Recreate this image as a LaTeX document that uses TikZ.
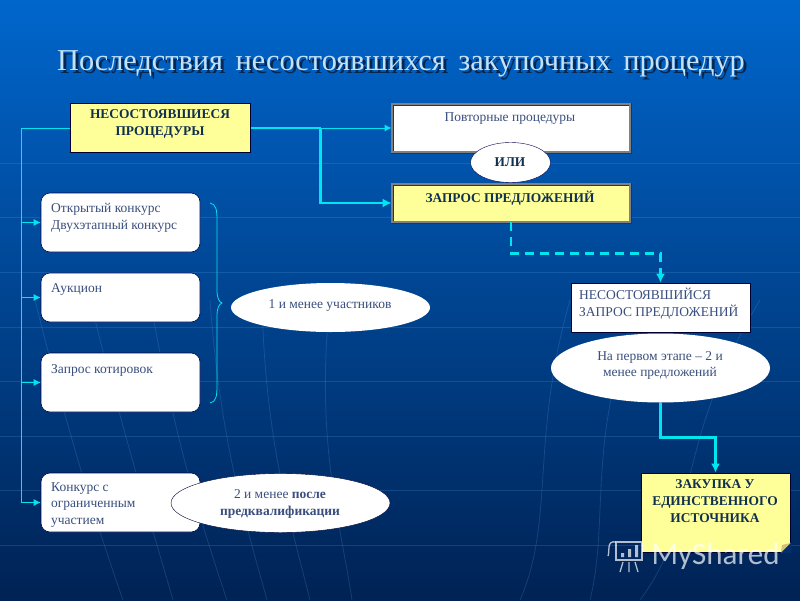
\documentclass[tikz,border=0pt]{standalone}
\usepackage{fontspec}
\setmainfont{Liberation Serif}
\newfontfamily\wmfont{Carlito}
\usetikzlibrary{shapes.geometric, arrows.meta}

\definecolor{lineCyan}{HTML}{00E6F0}
\definecolor{paleYellow}{HTML}{FFFF99}
\definecolor{softText}{HTML}{3A4F7E}
\definecolor{darkText}{HTML}{10304F}
\definecolor{gridBlue}{HTML}{5AA0E6}
\definecolor{titleBlue}{HTML}{C4E2F6}
\definecolor{titleShade}{HTML}{07264F}
\definecolor{cornerBlue}{HTML}{03306C}
\definecolor{foldTan}{HTML}{D2C27E}

\tikzset{
    yellowbox/.style={draw=black!80!blue, fill=paleYellow, line width=0.8pt, inner sep=0pt},
    whitebox/.style={draw=black!80!blue, fill=white, line width=0.6pt, inner sep=0pt},
    framebox/.style={draw=black!80, double=gray, fill=white, line width=0.8pt, double distance=1.4pt, inner sep=0pt},
    roundbox/.style={draw=black!70!blue, fill=white, rounded corners=9pt, line width=0.6pt, inner sep=0pt},
    oval/.style={ellipse, fill=white, inner sep=0pt},
    plain/.style={font=\fontsize{13.5}{16.5}\selectfont, text=softText, inner sep=0pt, align=center},
    strong/.style={font=\fontsize{13.4}{17}\selectfont\bfseries, text=darkText, inner sep=0pt, align=center},
    thinline/.style={draw=lineCyan, line width=1pt},
    thickline/.style={draw=lineCyan, line width=2.8pt},
    gridline/.style={draw=gridBlue, line width=0.8pt, opacity=0.22},
    tip/.style={-{Latex[length=7pt, width=7pt]}},
    bigtip/.style={-{Latex[length=9pt, width=9pt]}}
}

\begin{document}
\begin{tikzpicture}[x=1pt, y=-1pt]
    \useasboundingbox (0,0) rectangle (800,600);
    \shade[top color={rgb,255:red,0;green,102;blue,204}, middle color={rgb,255:red,0;green,88;blue,172}, bottom color={rgb,255:red,0;green,34;blue,84}] (0,0) rectangle (800,600);

    % background lines
    \foreach \y in {163,217.5,272,327,381.5,436,490,545}
        \draw[gridline] (0,\y) -- (800,\y);
    \foreach \a/\b/\c in {35/95/123,90/150/173,150/200/227,210/245/267,262/290/310,330/340/352,570/555/520,640/610/590,760/700/640}
        \draw[gridline] (\a,300) .. controls (\b-25,440) and (\b,520) .. (\c,600);

    % title
    \node[font=\fontsize{30.3}{34}\selectfont, text=titleShade, inner sep=0pt] (titleShadow) at (404,67)
        {Последствия\hspace{5pt} несостоявшихся\hspace{5pt} закупочных\hspace{5pt} процедур};
    \node[font=\fontsize{30.3}{34}\selectfont, text=titleBlue, inner sep=0pt] (title) at (401,64)
        {Последствия\hspace{5pt} несостоявшихся\hspace{5pt} закупочных\hspace{5pt} процедур};

    % top row
    \node[yellowbox, minimum width=180pt, minimum height=49pt] (failed) at (160.5,128) {};
    \node[strong] (failedText) at (160,124) {НЕСОСТОЯВШИЕСЯ\\ПРОЦЕДУРЫ};
    \node[framebox, minimum width=238pt, minimum height=48pt] (repeat) at (511,128) {};
    \node[plain] (repeatText) at (510,119) {Повторные процедуры};
    \node[framebox, fill=paleYellow, minimum width=238pt, minimum height=38pt] (request) at (511,203) {};
    \node[strong] (requestText) at (510,198) {ЗАПРОС ПРЕДЛОЖЕНИЙ};
    \node[oval, draw=black!70!blue, minimum width=80pt, minimum height=40pt] (orOval) at (510.5,162.5) {};
    \node[strong] (orText) at (510,162) {ИЛИ};

    % left column
    \node[roundbox, minimum width=159pt, minimum height=59pt] (open) at (120.5,222.5) {};
    \node[plain, anchor=north west, align=left] (openText) at (51,203.5) {Открытый конкурс\\Двухэтапный конкурс};
    \node[roundbox, minimum width=159pt, minimum height=49pt] (auction) at (120.5,297.5) {};
    \node[plain, anchor=west] (auctionText) at (51,289) {Аукцион};
    \node[roundbox, minimum width=159pt, minimum height=59pt] (quotes) at (120.5,382.5) {};
    \node[plain, anchor=west] (quotesText) at (51,370) {Запрос котировок};
    \node[roundbox, minimum width=159pt, minimum height=59pt] (limited) at (120.5,502.5) {};
    \node[plain, anchor=north west, align=left] (limitedText) at (51,482) {Конкурс с\\ограниченным\\участием};

    % ovals
    \node[oval, minimum width=199pt, minimum height=49pt] (oneOval) at (330.5,307.5) {};
    \node[plain] (oneText) at (330,305) {1 и менее участников};
    \node[oval, draw=black!80!blue, minimum width=219pt, minimum height=59pt] (twoOval) at (280.5,503) {};
    \node[plain] (twoText) at (280,504) {2 и менее \textbf{после}\\\textbf{предквалификации}};

    % right column
    \node[whitebox, minimum width=179pt, minimum height=49pt] (single) at (660.5,307.5) {};
    \node[plain, anchor=north west, align=left] (singleText) at (579,288) {НЕСОСТОЯВШИЙСЯ\\ЗАПРОС ПРЕДЛОЖЕНИЙ};
    \node[oval, minimum width=219pt, minimum height=69pt] (first) at (660.5,368) {};
    \node[plain] (firstText) at (660,365.5) {На первом этапе -- 2 и\\менее предложений};
    \node[yellowbox, minimum width=149pt, minimum height=79pt] (sole) at (715.5,512.5) {};
    \fill[cornerBlue] (791,542) -- (791,553) -- (780,553) -- cycle;
    \fill[foldTan] (790.5,543) -- (781,552.5) -- (782,545) -- cycle;
    \node[strong] (soleText) at (715,501) {ЗАКУПКА У\\ЕДИНСТВЕННОГО\\ИСТОЧНИКА};

    % connectors
    \coordinate (trunk) at (21,128);
    \coordinate (split) at (320.5,128);
    \draw[thinline] (failed.west) -- (trunk);
    \draw[thinline, tip] (trunk) |- (limited.west);
    \draw[thinline, tip] (trunk |- open.west) -- (open.west);
    \draw[thinline, tip] (trunk |- auction.west) -- (auction.west);
    \draw[thinline, tip] (trunk |- quotes.west) -- (quotes.west);
    \draw[thinline, tip] (split) -- (repeat.west);
    \draw[thickline] (failed.east) -- (split);
    \draw[thickline, bigtip] (split) |- (request.west);
    \draw[thickline, dash pattern=on 9pt off 6pt, bigtip] (request.south) -- ++(0,31) -| (single.north);
    \draw[thickline, bigtip] (first.south) -- ++(0,35) -| (sole.north);

    % brace
    \coordinate (braceTop) at (210,203);
    \coordinate (braceTip) at (222,303);
    \coordinate (braceEnd) at (210,403);
    \draw[thinline, line width=0.8pt] (braceTop) .. controls (216,204) and (217,210) .. (217,220)
        -- (217,290) .. controls (217,298) and (219,302) .. (braceTip)
        .. controls (219,304) and (217,308) .. (217,316) -- (217,386)
        .. controls (217,396) and (216,402) .. (braceEnd);

    % watermark
    \begin{scope}[white, opacity=0.7, line width=1.3pt]
        \draw (616,542) -- (642,542) -- (642,560) -- (616,560) -- cycle;
        \draw (616,542) .. controls (606,540) and (610,552) .. (608,556);
        \fill (621,553) rectangle (624,557) (628,549) rectangle (631,557) (635,545) rectangle (638,557);
        \draw (623,562) -- (620,572) (629,562) -- (629,572) (635,562) -- (638,572);
        \node[font=\wmfont\fontsize{31}{34}\selectfont, text=white, inner sep=0pt, anchor=west] (brand) at (651,556) {MyShared};
    \end{scope}
\end{tikzpicture}
\end{document}
